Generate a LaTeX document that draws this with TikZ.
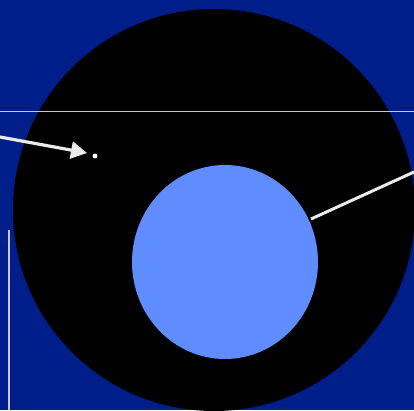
\documentclass[tikz,border=0pt]{standalone}
\usetikzlibrary{arrows.meta}
\definecolor{bgblue}{RGB}{0,30,138}
\definecolor{coreblue}{RGB}{95,140,255}
\definecolor{lineg}{RGB}{200,200,210}
\begin{document}
\begin{tikzpicture}[x=1pt,y=-1pt,
  thinline/.style={draw=lineg,line width=1pt},
  pointer/.style={draw=white!92!black,line width=3.2pt}]
\fill[bgblue] (0,0) rectangle (414,410);
\useasboundingbox (0,0) rectangle (414,410);
\begin{scope}
\clip (0,0) rectangle (414,410);
\fill[black] (214,210) circle[radius=201];
\end{scope}
\fill[coreblue] (225,262) ellipse[x radius=93,y radius=97];
\coordinate (hl) at (0,111);
\coordinate (hr) at (414,111);
\draw[thinline,line width=0.8pt] (hl) -- (hr);
\coordinate (as) at (0,137);
\coordinate (at) at (87,153);
\draw[pointer,-{Triangle[length=16pt,width=17pt]}] (as) -- (at);
\fill[white] (95,156) circle[radius=2.4];
\coordinate (ls) at (311,219);
\coordinate (le) at (414,172);
\draw[pointer,line width=3pt] (ls) -- (le);
\coordinate (vt) at (9,230);
\coordinate (vb) at (9,410);
\draw[thinline,line width=1.6pt] (vt) -- (vb);
\end{tikzpicture}
\end{document}
